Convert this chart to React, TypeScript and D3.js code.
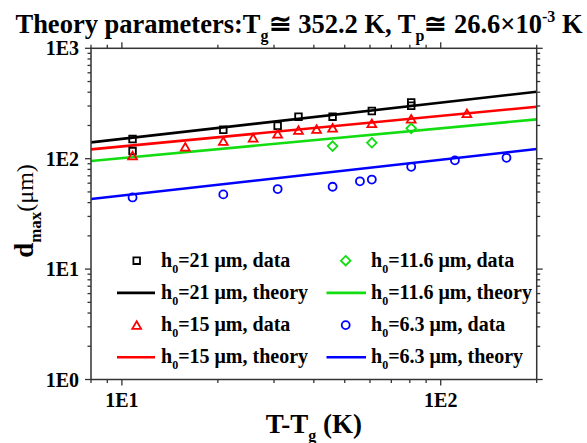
import React from 'react';
import * as d3 from 'd3';

// ---- data ----
const xDomain = [8, 200];
const yDomain = [1, 1000];
const xTickValues = [10, 100];
const xTickLabels = ['1E1', '1E2'];
const yTickValues = [1, 10, 100, 1000];
const yTickLabels = ['1E0', '1E1', '1E2', '1E3'];

const h21X = [10.8, 10.8, 20.8, 30.8, 35.8, 45.8, 60.8, 80.8, 80.8];
const h21Y = [150.6, 117.3, 182.9, 198.8, 239.9, 240, 270.3, 324, 301.7];
const h15X = [10.8, 15.8, 20.8, 25.8, 30.8, 35.8, 40.8, 45.8, 60.8, 80.8, 120.8];
const h15Y = [106.8, 128.3, 144.5, 154.8, 168.3, 181.7, 185.6, 190.7, 209, 230, 257.6];
const h116X = [45.8, 60.8, 80.8];
const h116Y = [130.1, 139.4, 188.4];
const h63X = [10.8, 20.8, 30.8, 45.8, 55.8, 60.8, 80.8, 110.8, 160.8];
const h63Y = [44.6, 47.5, 53.1, 55.7, 62.4, 64.7, 84.5, 96.6, 101.9];

const theoryX = [8, 200];
const h21Theory = [140.6, 404];
const h15Theory = [121.5, 295.6];
const h116Theory = [95.2, 227.2];
const h63Theory = [43.1, 122.3];

const thicknessLabels = ['21', '15', '11.6', '6.3'];

// ---- styles ----
const colors = ['#000000', '#ff0000', '#11dd11', '#0000ff'];
const markers = ['square', 'triangle', 'diamond', 'circle'];

const W = 587, H = 443;
const PL = 91, PR = 536.7, PT = 48.3, PB = 379.5;

function markerPath(kind: string, cx: number, cy: number): string {
  if (kind === 'square') {
    const s = 3.3;
    return `M${cx - s},${cy - s}H${cx + s}V${cy + s}H${cx - s}Z`;
  }
  if (kind === 'triangle') {
    const w = 4.4, h = 3.8;
    return `M${cx},${cy - h}L${cx + w},${cy + h}L${cx - w},${cy + h}Z`;
  }
  if (kind === 'diamond') {
    const s = 4.8;
    return `M${cx},${cy - s}L${cx + s},${cy}L${cx},${cy + s}L${cx - s},${cy}Z`;
  }
  const r = 4;
  return `M${cx + r},${cy}A${r},${r} 0 1,1 ${cx - r},${cy}A${r},${r} 0 1,1 ${cx + r},${cy}Z`;
}

export default function App() {
  const x = d3.scaleLog().domain(xDomain).range([PL, PR]);
  const y = d3.scaleLog().domain(yDomain).range([PB, PT]);
  const line = d3.line().x((d: any) => x(d[0])).y((d: any) => y(d[1]));

  const dataSets = [
    { xs: h21X, ys: h21Y },
    { xs: h15X, ys: h15Y },
    { xs: h116X, ys: h116Y },
    { xs: h63X, ys: h63Y },
  ];
  const theories = [h21Theory, h15Theory, h116Theory, h63Theory];

  const xTicks = x.ticks();
  const yTicks = y.ticks();
  const isMajor = (v: number) => Math.abs(Math.log10(v) - Math.round(Math.log10(v))) < 1e-9;

  const axisColor = '#333';
  const majLen = 6, minLen = 3.5;

  const legendCols = [
    { mx: 136.7, lx1: 117, lx2: 155, tx: 161, series: [0, 1] },
    { mx: 345.7, lx1: 326.5, lx2: 366, tx: 371, series: [2, 3] },
  ];
  const rowY0 = 260.7, rowStep = 32.2;

  return (
    <svg width={W} height={H} style={{ position: 'absolute', left: 0, top: 0, background: '#fff' }}>
      <rect x={0} y={0} width={W} height={H} fill="#fff" />
      <defs>
        <clipPath id="plotClip">
          <rect x={PL} y={PT} width={PR - PL} height={PB - PT} />
        </clipPath>
      </defs>
      {/* title */}
      <text x={299} y={33} fontSize={26.5} fontWeight="bold" fontFamily="Liberation Serif" textAnchor="middle" fill="#000">
        Theory parameters:T<tspan fontSize={16} dy={8}>g</tspan>
        <tspan fontSize={26.5} dy={-8}>≅ 352.2 K, T</tspan>
        <tspan fontSize={16} dy={8}>p</tspan>
        <tspan fontSize={26.5} dy={-8}>≅ 26.6×10</tspan>
        <tspan fontSize={16} dy={-11}>-3</tspan>
        <tspan fontSize={26.5} dy={11}> K</tspan>
      </text>

      {/* theory lines */}
      <g clipPath="url(#plotClip)">
        {theories.map((t, i) => (
          <path key={'t' + i} d={line(theoryX.map((xv, j) => [xv, t[j]]) as any) || ''}
            fill="none" stroke={colors[i]} strokeWidth={2.6} />
        ))}
      </g>

      {/* data markers */}
      {dataSets.map((ds, i) => (
        <g key={'d' + i}>
          {ds.xs.map((xv, j) => (
            <path key={j} d={markerPath(markers[i], x(xv), y(ds.ys[j]))}
              fill="none" stroke={colors[i]} strokeWidth={1.8} />
          ))}
        </g>
      ))}

      {/* frame */}
      <rect x={PL} y={PT} width={PR - PL} height={PB - PT} fill="none" stroke={axisColor} strokeWidth={1.5} />

      {xTicks.map((v, i) => {
        const px = x(v);
        const len = isMajor(v) ? majLen : minLen;
        return (
          <g key={'xt' + i}>
            <line x1={px} x2={px} y1={PB} y2={PB + len} stroke={axisColor} strokeWidth={1.3} />
            <line x1={px} x2={px} y1={PT} y2={PT - len} stroke={axisColor} strokeWidth={1.3} />
          </g>
        );
      })}
      {xTickValues.map((v, i) => (
        <text key={'xl' + i} x={x(v)} y={406.5} fontSize={20} fontWeight="bold" fontFamily="Liberation Serif" textAnchor="middle" fill="#000">{xTickLabels[i]}</text>
      ))}

      {yTicks.map((v, i) => {
        const py = y(v);
        const len = isMajor(v) ? majLen : minLen;
        return (
          <g key={'yt' + i}>
            <line x1={PL} x2={PL - len} y1={py} y2={py} stroke={axisColor} strokeWidth={1.3} />
            <line x1={PR} x2={PR + len} y1={py} y2={py} stroke={axisColor} strokeWidth={1.3} />
          </g>
        );
      })}
      {yTickValues.map((v, i) => (
        <text key={'yl' + i} x={79} y={y(v) + 7} fontSize={20} fontWeight="bold" fontFamily="Liberation Serif" textAnchor="end" fill="#000">{yTickLabels[i]}</text>
      ))}

      {/* axis titles */}
      <text x={(PL + PR) / 2} y={433} fontSize={27} fontWeight="bold" fontFamily="Liberation Serif" textAnchor="middle" fill="#000">
        T-T<tspan fontSize={16} dy={8}>g</tspan><tspan fontSize={27} dy={-8}> (K)</tspan>
      </text>
      <text transform={`translate(33,${211}) rotate(-90)`} fontSize={27} fontWeight="bold" fontFamily="Liberation Serif" textAnchor="middle" fill="#000">
        d<tspan fontSize={17} dy={8}>max</tspan><tspan fontSize={24} fontWeight="normal" dy={-8}>(μm)</tspan>
      </text>

      {/* legend */}
      {legendCols.map((col, ci) => (
        <g key={'lc' + ci}>
          {col.series.map((si, k) => {
            const yData = rowY0 + rowStep * (2 * k);
            const yTheo = rowY0 + rowStep * (2 * k + 1);
            return (
              <g key={'ls' + si}>
                <path d={markerPath(markers[si], col.mx, yData)} fill="none" stroke={colors[si]} strokeWidth={1.8} />
                <text x={col.tx} y={yData + 6} fontSize={20} fontWeight="bold" fontFamily="Liberation Serif" fill="#000">
                  h<tspan fontSize={12} dy={6}>0</tspan><tspan dy={-6}>={thicknessLabels[si]} μm, data</tspan>
                </text>
                <line x1={col.lx1} x2={col.lx2} y1={yTheo} y2={yTheo} stroke={colors[si]} strokeWidth={2.6} />
                <text x={col.tx} y={yTheo + 6} fontSize={20} fontWeight="bold" fontFamily="Liberation Serif" fill="#000">
                  h<tspan fontSize={12} dy={6}>0</tspan><tspan dy={-6}>={thicknessLabels[si]} μm, theory</tspan>
                </text>
              </g>
            );
          })}
        </g>
      ))}
    </svg>
  );
}
